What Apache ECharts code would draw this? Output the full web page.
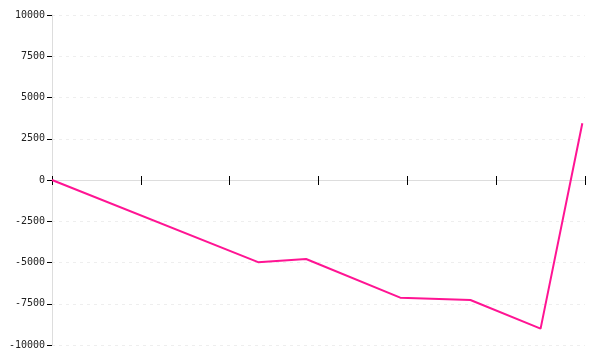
<!DOCTYPE html>
<html><head><meta charset="utf-8">
<script src="https://cdn.jsdelivr.net/npm/echarts@6/dist/echarts.min.js"></script>
<style>html,body{margin:0;padding:0;background:#fff}#c{width:600px;height:360px}</style>
</head><body><div id="c"></div>
<script>
const xValues = [0, 2.32, 2.86, 3.92, 4.71, 5.5, 5.97];
const yValues = [0, -4980, -4790, -7130, -7270, -9010, 3440];
const yTicks = [-10000, -7500, -5000, -2500, 0, 2500, 5000, 7500, 10000];

const chart = echarts.init(document.getElementById('c'), null, {renderer: 'canvas'});
chart.setOption({
  animation: false,
  grid: {left: 52, right: 15, top: 15, bottom: 15},
  xAxis: [{
    type: 'value', min: 0, max: 6, interval: 1,
    axisLine: {onZero: true, onZeroAxisIndex: 0, lineStyle: {color: '#dddddd', width: 1}},
    axisTick: {show: true, length: 5, lineStyle: {color: '#000'}},
    axisLabel: {show: false},
    splitLine: {show: false}
  }, {
    type: 'value', min: 0, max: 6, interval: 1, position: 'bottom',
    axisLine: {show: true, onZero: true, onZeroAxisIndex: 1, lineStyle: {color: 'rgba(0,0,0,0)'}},
    axisTick: {show: true, inside: true, length: 4, lineStyle: {color: '#000'}},
    axisLabel: {show: false},
    splitLine: {show: false}
  }],
  yAxis: [{
    type: 'value', min: yTicks[0], max: yTicks[yTicks.length - 1], interval: 2500,
    axisLine: {show: true, lineStyle: {color: '#dddddd'}},
    axisTick: {show: true, length: 5, lineStyle: {color: '#000'}},
    axisLabel: {color: '#222', fontFamily: 'DejaVu Sans Mono', fontSize: 10, margin: 7,
      formatter: v => String(v)},
    splitLine: {show: true, lineStyle: {color: '#eeeeee', type: [3, 4]}}
  }, {
    type: 'value', min: yTicks[0], max: yTicks[yTicks.length - 1], interval: 2500,
    position: 'left', show: true,
    axisLine: {show: false}, axisTick: {show: false}, axisLabel: {show: false},
    splitLine: {show: false}
  }],
  series: [{
    type: 'line',
    data: xValues.map((x, i) => [x, yValues[i]]),
    showSymbol: false,
    lineStyle: {color: '#ff1493', width: 2},
    itemStyle: {color: '#ff1493'}
  }]
});
</script></body></html>
